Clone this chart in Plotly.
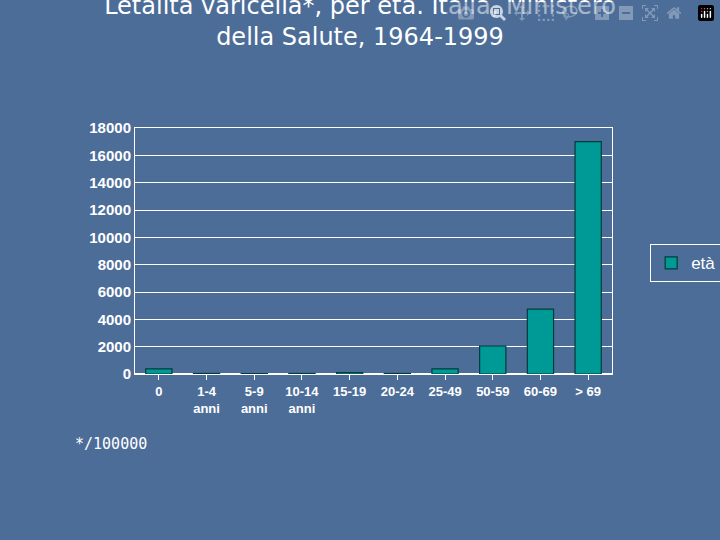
import plotly.graph_objects as go

eta = ["0", "1-4<br>anni", "5-9<br>anni", "10-14<br>anni", "15-19", "20-24",
       "25-49", "50-59", "60-69", "> 69"]
letalita = [380, 40, 30, 40, 110, 40, 380, 2050, 4750, 17000]
y_ticks = list(range(0, 18001, 2000))

fig = go.Figure()
fig.add_trace(go.Bar(
    x=eta, y=letalita, name="età",
    marker=dict(color="#009a96", line=dict(color="#003c3a", width=1.2)),
    width=0.55,
))

fig.update_layout(
    width=720, height=540,
    paper_bgcolor="#4d6d99",
    plot_bgcolor="rgba(0,0,0,0)",
    font=dict(family="Liberation Sans, Arial", color="white"),
    title=dict(text="Letalità varicella*, per età. Italia, Ministero<br>della Salute, 1964-1999",
               x=0.5, y=0.975, yanchor="top", xanchor="center",
               font=dict(family="DejaVu Sans", size=24, color="white")),
    margin=dict(l=135, r=108, t=128, b=166, autoexpand=False),
    showlegend=True,
    legend=dict(x=1.08, y=0.45, xanchor="left", yanchor="middle",
                bgcolor="rgba(0,0,0,0)", bordercolor="white", borderwidth=1,
                font=dict(size=17, color="white")),
    bargap=0.4,
)
fig.update_xaxes(showline=True, linecolor="white", linewidth=1, mirror=True,
                 ticks="outside", tickcolor="white",
                 tickfont=dict(size=13, family="Liberation Sans", weight="bold"))
fig.update_yaxes(range=[0, 18000], tickvals=y_ticks, tickformat="d", showgrid=True,
                 gridcolor="white", gridwidth=1, showline=True, linecolor="white",
                 mirror=True, tickfont=dict(size=15, family="Liberation Sans", weight="bold"))
fig.add_annotation(text="*/100000", xref="paper", yref="paper", x=-0.13, y=-0.33,
                   xanchor="left", showarrow=False,
                   font=dict(family="DejaVu Sans Mono", size=15, color="white"))

fig.write_html("out.html", post_script="document.body.style.margin='0';")
